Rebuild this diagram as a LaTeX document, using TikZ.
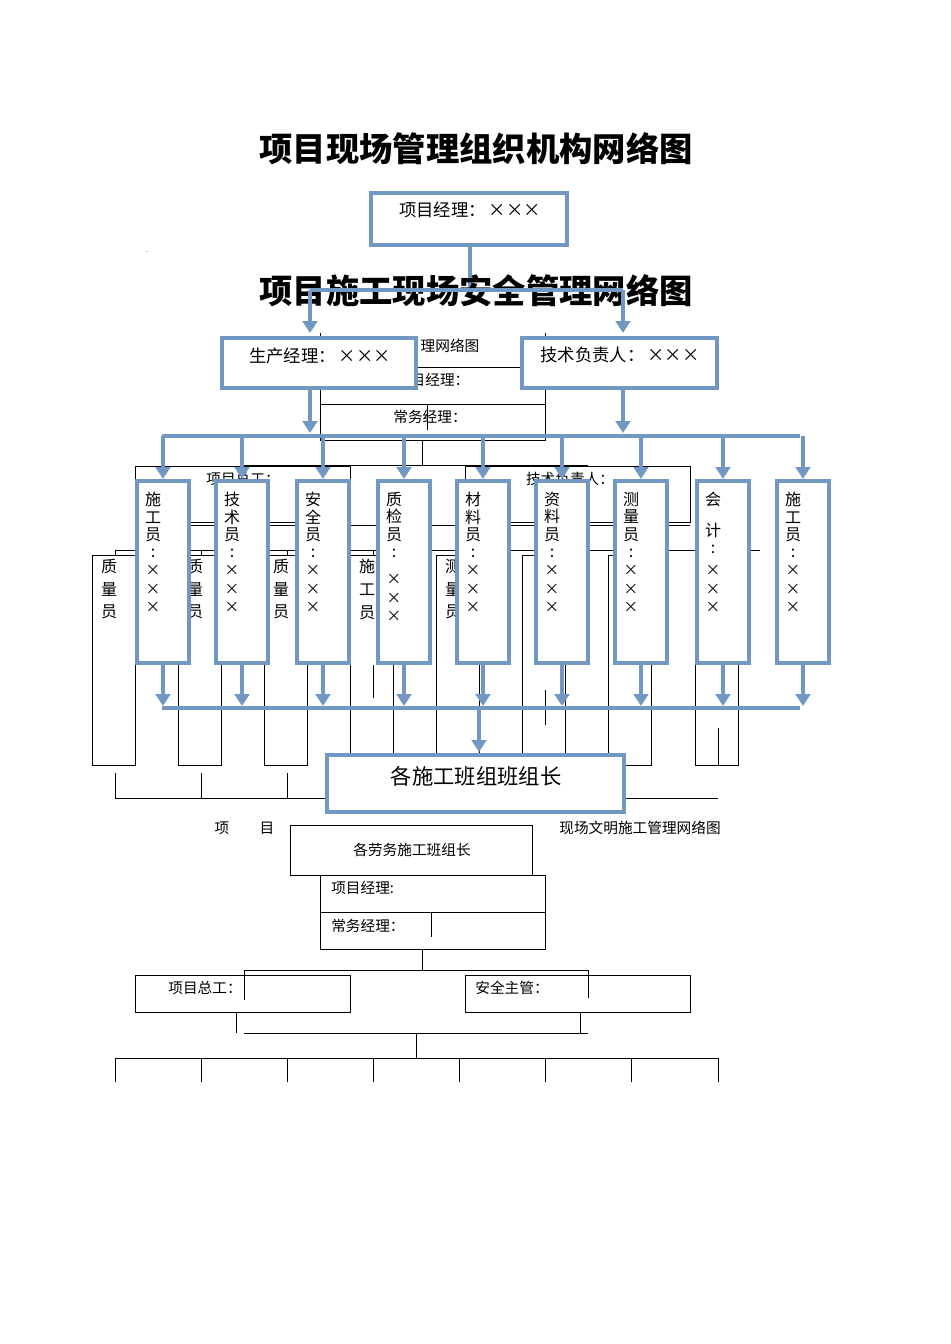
\documentclass[tikz,border=0pt]{standalone}
\usepackage{fontspec}
\setmainfont{Noto Sans CJK SC}
\usetikzlibrary{arrows.meta}
\definecolor{bl}{HTML}{7198C2}
\tikzset{
 bbox/.style={draw=bl,line width=3.6pt,fill=white},
 barr/.style={draw=bl,line width=3.6pt,-{Triangle[width=11pt,length=9pt]}},
 bln/.style={draw=bl,line width=3.6pt},
 thin/.style={draw=black,line width=0.6pt},
 sm/.style={font=\fontsize{11}{12}\selectfont,inner sep=0pt},
 bt/.style={font=\fontsize{13}{14}\selectfont,inner sep=0pt},
 vt/.style={font=\fontsize{12}{13}\selectfont,inner sep=0pt,anchor=north,align=center},
 vx/.style={font=\fontsize{11}{14}\selectfont,inner sep=0pt,anchor=north,align=center},
}
\newcommand{\mycol}[4]{%
  \draw[barr] (#1+26,436) -- (#1+26,479);
  \draw[bbox] (#1,481) rectangle (#1+52,663);
  \node[vt] (#4) at (#1+16,492) {#2};
  \node[vx] (#4x) at (#1+16,#3-7) {×\\×\\×};
  \draw[barr] (#1+26,663) -- (#1+26,706);
}
\begin{document}
\begin{tikzpicture}[x=0.75pt,y=-0.75pt]
\useasboundingbox (0,0) rectangle (950,1344);
\fill[white] (0,0) rectangle (950,1344);
% ---- background thin structure
\draw[thin] (320,333) -- (320,440) -- (545,440) -- (545,333);
\draw[thin] (416,367) -- (545,367);
\draw[thin] (320,404) -- (545,404);
\draw[thin] (427,404) -- (427,430);
\node[sm] (t1) at (450,346) {理网络图};
\node[sm] (t2) at (440,380) {目经理：};
\node[sm] (t3) at (430,417) {常务经理：};
\draw[thin] (422,440) -- (422,465);
\draw[thin] (244,465) -- (588,465);
\draw[thin] (135,522) rectangle (350,466);
\draw[thin] (465,466) rectangle (690,522);
\node[sm] (t4) at (243,479) {项目总工：};
\node[sm] (t5) at (570,479) {技术负责人：};
\draw[thin] (190,525) -- (690,525);
\draw[thin] (115,550) -- (760,550);
\foreach \x in {92,178,264,350,436,522,608,695}{
  \draw[thin] (\x,555) rectangle (\x+43,765);
  \draw[thin] (\x+23,550) -- (\x+23,555);
}
\node[vt] (q1) at (109,559) {质\\[4pt]量\\[4pt]员};
\node[vt] (q2) at (195,559) {质\\[4pt]量\\[4pt]员};
\node[vt] (q3) at (281,559) {质\\[4pt]量\\[4pt]员};
\node[vt] (q4) at (367,559) {施\\[4pt]工\\[4pt]员};
\node[vt] (q5) at (453,559) {测\\[4pt]量\\[4pt]员};
\draw[thin] (373,665) -- (373,698);
\draw[thin] (545,690) -- (545,725);
\draw[thin] (718,728) -- (718,765);
\draw[thin] (115,773) -- (115,798) -- (718,798);
\draw[thin] (201,773) -- (201,798);
\draw[thin] (287,773) -- (287,798);
\node[sm] (t6) at (222,828) {项};
\node[sm] (t7) at (267,828) {目};
\node[sm] (t8) at (640,828) {现场文明施工管理网络图};
\draw[thin] (290,825) rectangle (532,875);
\node[sm] (t9) at (412,850) {各劳务施工班组长};
\draw[thin] (320,875) rectangle (545,949);
\draw[thin] (320,912) -- (545,912);
\draw[thin] (431,912) -- (431,937);
\node[sm,anchor=west] (t10) at (331,888) {项目经理:};
\node[sm,anchor=west] (t11) at (331,926) {常务经理：};
\draw[thin] (422,949) -- (422,970);
\draw[thin] (244,970) -- (588,970);
\draw[thin] (244,970) -- (244,1000);
\draw[thin] (588,970) -- (588,998);
\draw[thin] (135,975) rectangle (350,1012);
\draw[thin] (465,975) rectangle (690,1012);
\node[sm] (t12) at (205,988) {项目总工：};
\node[sm] (t13) at (512,988) {安全主管：};
\draw[thin] (236,1012) -- (236,1033);
\draw[thin] (580,1012) -- (580,1033);
\draw[thin] (244,1033) -- (588,1033);
\draw[thin] (416,1033) -- (416,1058);
\draw[thin] (115,1058) -- (718,1058);
\foreach \x in {115,201,287,373,459,545,631,718}{\draw[thin] (\x,1058) -- (\x,1082);}
\node[font=\tiny] (dot) at (147,252) {.};
% ---- titles
\node[font=\fontsize{25}{28}\selectfont\bfseries] (title1) at (476,149) {项目现场管理组织机构网络图};
% ---- blue structure
\draw[bbox] (371,193) rectangle (567,245);
\node[bt] (pm) at (470,210) {项目经理：\,×××};
\coordinate (pmb) at (470,245);
\coordinate (jl) at (470,290);
\draw[bln] (pmb) -- (jl);
\node[font=\fontsize{25}{28}\selectfont\bfseries] (title2) at (476,291) {项目施工现场安全管理网络图};
\draw[bln] (310,290) -- (623,290);
\coordinate (a1) at (310,290); \coordinate (a2) at (623,290);
\coordinate (a1e) at (310,333); \coordinate (a2e) at (623,333);
\draw[barr] (a1) -- (a1e);
\draw[barr] (a2) -- (a2e);
\draw[bbox] (222,338) rectangle (416,388);
\node[bt] (sc) at (320,356) {生产经理：\,×××};
\draw[bbox] (522,338) rectangle (717,388);
\node[bt] (js) at (620,355) {技术负责人：\,×××};
\coordinate (b1) at (310,388); \coordinate (b1e) at (310,433);
\coordinate (b2) at (623,388); \coordinate (b2e) at (623,433);
\draw[barr] (b1) -- (b1e);
\draw[barr] (b2) -- (b2e);
\draw[bln] (162,436) -- (800,436);
\draw[bln] (162,708) -- (800,708);
\mycol{137}{施\\工\\员\\:}{572}{c1}
\mycol{216}{技\\术\\员\\:}{572}{c2}
\mycol{297}{安\\全\\员\\:}{572}{c3}
\mycol{378}{质\\检\\员\\:}{581}{c4}
\mycol{457}{材\\料\\员\\:}{572}{c5}
\mycol{536}{资\\料\\员\\:}{572}{c6}
\mycol{615}{测\\量\\员\\:}{572}{c7}
\mycol{697}{会\\[10pt]计\\:}{572}{c8}
\mycol{777}{施\\工\\员\\:}{572}{c9}
\coordinate (m1) at (479,708); \coordinate (m2) at (479,752);
\draw[barr] (m1) -- (m2);
\draw[bbox] (327,755) rectangle (624,812);
\node[font=\fontsize{16}{18}\selectfont,inner sep=0pt] (bz) at (476,776) {各施工班组班组长};
\end{tikzpicture}
\end{document}
